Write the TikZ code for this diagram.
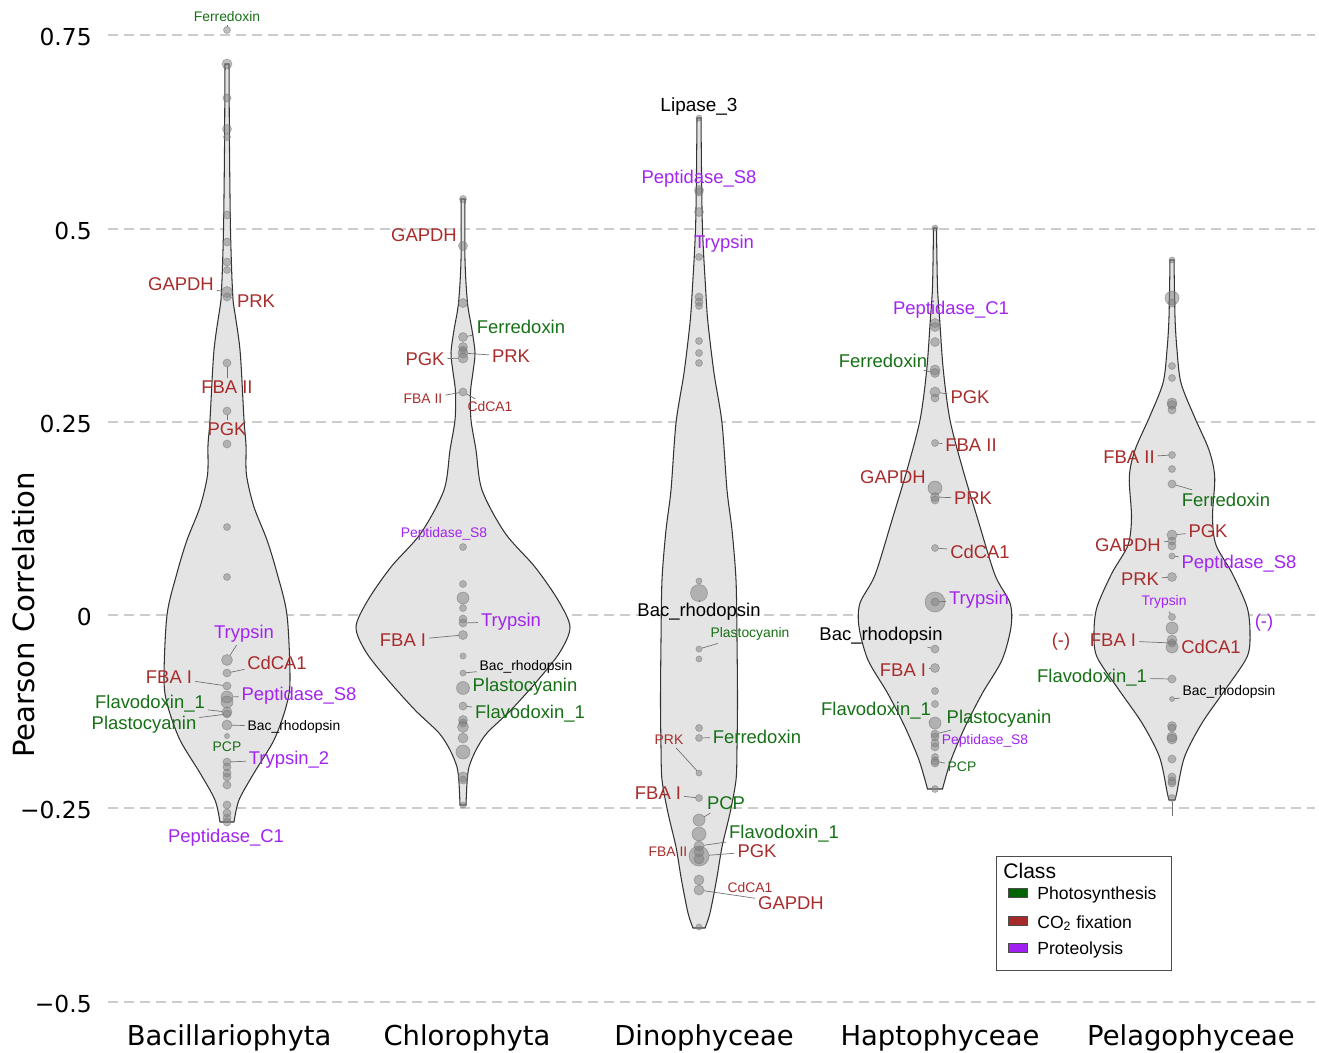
\documentclass[tikz,border=0pt]{standalone}
\usepackage{fontspec}
\setmainfont{Liberation Sans}
\newfontfamily\axisfont{DejaVu Sans}
\definecolor{photo}{RGB}{0,100,0}
\definecolor{cofix}{RGB}{165,42,42}
\definecolor{proteo}{RGB}{160,32,240}
\definecolor{phtext}{RGB}{22,112,22}
\definecolor{fxtext}{RGB}{168,44,44}
\definecolor{prtext}{RGB}{162,36,240}
\definecolor{vfill}{RGB}{228,228,228}
\tikzset{
  grid/.style={draw=black!20, line width=1.1pt, dash pattern=on 5.7pt off 3.4pt},
  violin/.style={fill=vfill, draw=black!80, line width=0.6pt},
  pt/.style={circle, inner sep=0pt, outer sep=0pt, fill=black!50, fill opacity=0.5, draw=black!55, draw opacity=0.5, line width=0.4pt},
  lab/.style={font=\fontsize{10.5}{12}\selectfont, inner sep=1.5pt, yshift=-0.03cm},
  sm/.style={font=\fontsize{7.9}{9}\selectfont, inner sep=1.5pt, yshift=-0.02cm},
  ph/.style={text=phtext}, fx/.style={text=fxtext}, pr/.style={text=prtext},
  leader/.style={draw=black!55, line width=0.4pt},
  tick/.style={font=\axisfont\fontsize{13.3}{15}\selectfont, inner sep=0pt, anchor=east, yshift=-0.04cm},
  cat/.style={font=\axisfont\fontsize{15.6}{18}\selectfont, inner sep=0pt, yshift=-0.06cm},
  key/.style={draw=black!70, line width=0.4pt, minimum width=0.38cm, minimum height=0.18cm, inner sep=0pt},
  keytext/.style={font=\fontsize{10}{12}\selectfont, anchor=west, inner sep=0pt, yshift=-0.04cm}
}
\newcommand\violin[4]{%
  \foreach \s in {1,-1}{%
    \begin{scope}[shift={(#1,0)},xscale=\s]
      \filldraw[violin] (0,#2) -- plot[smooth] coordinates {#4} -- (0,#3);
    \end{scope}}}

\begin{document}
\begin{tikzpicture}[x=0.02cm,y=-0.02cm]
\useasboundingbox (0,0) rectangle (1319,1052);

\foreach \y in {35,229,422,615,808,1002}
  \draw[grid] (108,\y) -- (1315,\y);
\foreach \y/\t in {35/0.75,229/0.5,422/0.25,615/0,808/−0.25,1002/−0.5}
  \node[tick] (tick\y) at (92,\y) {\t};

\node[rotate=90, font=\axisfont\fontsize{16.6}{18}\selectfont, inner sep=0pt] (ylab) at (24,615) {Pearson Correlation};
\node[cat] (bacil) at (229,1035) {Bacillariophyta};
\node[cat] (chloro) at (467,1035) {Chlorophyta};
\node[cat] (dino) at (704,1035) {Dinophyceae};
\node[cat] (hapto) at (940,1035) {Haptophyceae};
\node[cat] (pelago) at (1191,1035) {Pelagophyceae};

\violin{227}{64}{822}{(2,64) (2.5,150) (3.5,230) (5,280) (6,300) (13,350) (17,420) (19,445) (19.5,475) (27,507) (40,540) (50,573) (60,615) (63,680) (59,707) (47,740) (27,773) (12,800) (7,822)}
\violin{463}{199}{805}{(2,199) (2,260) (4.5,303) (9,330) (12,353) (10,372) (7.5,392) (8,420) (13,450) (19,490) (42,533) (72,567) (95,600) (107,627) (97,652) (75,680) (48,710) (24,733) (13,750) (6,767) (4,783) (3,805)}
\violin{699}{118}{928}{(2,118) (3.3,223) (6.7,290) (9,323) (15,373) (23,423) (28,490) (33,530) (37,580) (38,640) (38.5,700) (38,747) (37,780) (31,813) (23,847) (17.5,880) (11,913) (6,928)}
\violin{935}{228}{789}{(1.5,228) (2.5,287) (4.7,320) (8.3,370) (15,420) (28,470) (43,520) (60,575) (75,603) (76,627) (67,660) (47.5,693) (30,727) (16,760) (7.5,789)}
\violin{1172}{260}{800}{(2,260) (3,317) (5,350) (9,383) (22.5,417) (37,450) (42.7,477) (40.5,517) (44,545) (60,573) (75,607) (78,633) (75,657) (53,690) (30,723) (12.5,757) (4.7,793) (3,800)}

\foreach \n/\y/\r in {a1/30/3.5, a2/64/5, a3/98/4, a4/129/4.5, a5/137/3.5, a6/215/4, a7/242/4, a8/262/4, a9/270/3.5, a10/292/5.5, a11/297/4, a12/363/4, a13/411/4, a14/444/4, a15/527/3.5, a16/577/3.5, a17/660/5.5, a18/673/4, a19/686/4, a20/697/6, a21/702/6, a22/712/5, a23/714/4, a24/725/5, a25/736/2.5, a26/762/4, a27/767/4, a28/773/4, a29/777/4, a30/785/4, a31/805/4, a32/813/4, a33/818/4, a34/822/4}
  \node[pt, minimum size={\r*0.04cm}] (\n) at (227,\y) {};
\foreach \n/\y/\r in {b1/199/3.5, b2/246/4.5, b3/303/4.5, b4/337/4.5, b5/347/4.5, b6/350/4, b7/353/5, b8/358/5, b9/392/4, b10/547/3.5, b11/584/3.5, b12/598/6, b13/608/3.5, b14/619/4, b15/623/4, b16/635/4.5, b17/656/3, b18/673/3, b19/688/6.5, b20/706/4, b21/720/4.5, b22/723/4, b23/727/5.5, b24/738/5, b25/752/7, b26/777/5, b27/780/4, b28/805/3}
  \node[pt, minimum size={\r*0.04cm}] (\n) at (463,\y) {};
\foreach \n/\y/\r in {c1/118/3, c2/190/4.5, c3/192/4, c4/212/4.5, c5/257/3.5, c6/297/4, c7/302/4, c8/306/3.5, c9/341/3.5, c10/353/3.5, c11/363/3.5, c12/581/3, c13/593/8.5, c14/649/3, c15/659/3, c16/728/3.5, c17/738/3.5, c18/773/3, c19/798/3.5, c20/820/6, c21/834/7, c22/846/5, c23/852/5, c24/856/10, c25/859/5, c26/880/5, c27/890/5, c28/927/3}
  \node[pt, minimum size={\r*0.04cm}] (\n) at (699,\y) {};
\foreach \n/\y/\r in {d1/228/3, d2/323/4.5, d3/327/4.5, d4/342/4.5, d5/370/5, d6/373/4.5, d7/392/5, d8/398/4, d9/443/3.5, d10/488/7, d11/497/4.5, d12/500/4, d13/548/3.5, d14/602/10, d15/602/4, d16/649/4, d17/668/4.5, d18/691/3.5, d19/704/3.5, d20/723/6, d21/734/4, d22/737/4, d23/743/4, d24/747/4, d25/757/3.5, d26/761/4, d27/763/4, d28/789/3.5}
  \node[pt, minimum size={\r*0.04cm}] (\n) at (935,\y) {};
\foreach \n/\y/\r in {e1/260/3, e2/298/7, e3/303/4, e4/366/3.5, e5/378/3.5, e6/403/5, e7/405/4.5, e8/410/4, e9/455/3.5, e10/469/3.5, e11/484/4, e12/535/5, e13/541/4, e14/546/4, e15/556/3, e16/577/4.5, e17/617/3.5, e18/628/6, e19/640/5, e20/643/4, e21/647/6, e22/679/4, e23/699/2.5, e24/726/4.5, e25/728/4, e26/737/5, e27/739/5, e28/759/4, e29/777/4, e30/781/4, e31/783/4, e32/798/3.5}
  \node[pt, minimum size={\r*0.04cm}] (\n) at (1172,\y) {};

\node[sm,ph] (fdA) at (227,16) {Ferredoxin};
\node[lab,fx] (gapA) at (181,283) {GAPDH};
\node[lab,fx] (prkA) at (256,300) {PRK};
\node[lab,fx] (fba2A) at (227,386) {FBA II};
\node[lab,fx] (pgkA) at (227,428) {PGK};
\node[lab,pr] (tryA) at (244,632) {Trypsin};
\node[lab,fx] (cdA) at (277,661) {CdCA1};
\node[lab,fx] (fba1A) at (169,676) {FBA I};
\node[lab,pr] (pepA) at (299,694) {Peptidase\_S8};
\node[lab,ph] (flvA) at (150,702) {Flavodoxin\_1};
\node[lab,ph] (plaA) at (144,723) {Plastocyanin};
\node[sm] (bacA) at (294,726) {Bac\_rhodopsin};
\node[sm,ph] (pcpA) at (227,746) {PCP};
\node[lab,pr] (try2A) at (289,758) {Trypsin\_2};
\node[lab,pr] (pepcA) at (226,836) {Peptidase\_C1};
\draw[leader] (fdA) -- (a1);
\draw[leader] (gapA) -- (a10);
\draw[leader] (prkA) -- (a11);
\draw[leader] (fba2A) -- (a12);
\draw[leader] (pgkA) -- (a13);
\draw[leader] (tryA) -- (a17);
\draw[leader] (cdA) -- (a18);
\draw[leader] (fba1A) -- (a19);
\draw[leader] (pepA) -- (a20);
\draw[leader] (flvA) -- (a22);
\draw[leader] (plaA) -- (a23);
\draw[leader] (bacA) -- (a24);
\draw[leader] (try2A) -- (a26);

\node[lab,fx] (gapB) at (424,234) {GAPDH};
\node[lab,ph] (fdB) at (521,325) {Ferredoxin};
\node[lab,fx] (pgkB) at (425,358) {PGK};
\node[lab,fx] (prkB) at (511,355) {PRK};
\node[sm,fx] (fba2B) at (423,398) {FBA II};
\node[sm,fx] (cdB) at (490,406) {CdCA1};
\node[sm,pr] (pepB) at (444,533) {Peptidase\_S8};
\node[lab,pr] (tryB) at (511,620) {Trypsin};
\node[lab,fx] (fba1B) at (403,639) {FBA I};
\node[sm] (bacB) at (526,666) {Bac\_rhodopsin};
\node[lab,ph] (plaB) at (525,685) {Plastocyanin};
\node[lab,ph] (flvB) at (530,712) {Flavodoxin\_1};
\draw[leader] (gapB) -- (b2);
\draw[leader] (fdB) -- (b4);
\draw[leader] (pgkB) -- (b8);
\draw[leader] (prkB) -- (b7);
\draw[leader] (fba2B) -- (b9);
\draw[leader] (cdB) -- (b9);
\draw[leader] (tryB) -- (b15);
\draw[leader] (fba1B) -- (b16);
\draw[leader] (bacB) -- (b18);
\draw[leader] (plaB) -- (b19);
\draw[leader] (flvB) -- (b20);

\node[font=\fontsize{10.8}{12}\selectfont, inner sep=1.5pt, yshift=-0.04cm] (lipC) at (699,105) {Lipase\_3};
\node[lab,pr] (pepC) at (699,177) {Peptidase\_S8};
\node[lab,pr] (tryC) at (724,242) {Trypsin};
\node[lab] (bacC) at (699,610) {Bac\_rhodopsin};
\node[sm,ph] (plaC) at (750,633) {Plastocyanin};
\node[lab,ph] (fdC) at (757,735) {Ferredoxin};
\node[sm,fx] (prkC) at (669,739) {PRK};
\node[lab,fx] (fba1C) at (658,792) {FBA I};
\node[lab,ph] (pcpC) at (726,802) {PCP};
\node[lab,ph] (flvC) at (784,832) {Flavodoxin\_1};
\node[sm,fx] (fba2C) at (668,851) {FBA II};
\node[lab,fx] (pgkC) at (757,850) {PGK};
\node[sm,fx] (cdC) at (750,887) {CdCA1};
\node[lab,fx] (gapC) at (791,902) {GAPDH};
\draw[leader] (tryC) -- (c5);
\draw[leader] (bacC) -- (c13);
\draw[leader] (plaC) -- (c14);
\draw[leader] (fdC) -- (c17);
\draw[leader] (prkC) -- (c18);
\draw[leader] (fba1C) -- (c19);
\draw[leader] (pcpC) -- (c20);
\draw[leader] (flvC) -- (c22);
\draw[leader] (pgkC) -- (c24);
\draw[leader] (gapC) -- (c27);

\node[lab,pr] (pepcD) at (951,308) {Peptidase\_C1};
\node[lab,ph] (fdD) at (883,359) {Ferredoxin};
\node[lab,fx] (pgkD) at (970,396) {PGK};
\node[lab,fx] (fba2D) at (971,444) {FBA II};
\node[lab,fx] (gapD) at (893,476) {GAPDH};
\node[lab,fx] (prkD) at (973,497) {PRK};
\node[lab,fx] (cdD) at (980,550) {CdCA1};
\node[lab,pr] (tryD) at (979,598) {Trypsin};
\node[lab] (bacD) at (881,634) {Bac\_rhodopsin};
\node[lab,fx] (fba1D) at (903,669) {FBA I};
\node[lab,ph] (flvD) at (876,709) {Flavodoxin\_1};
\node[lab,ph] (plaD) at (999,717) {Plastocyanin};
\node[sm,pr] (pepD) at (985,740) {Peptidase\_S8};
\node[sm,ph] (pcpD) at (962,766) {PCP};
\draw[leader] (fdD) -- (d6);
\draw[leader] (pgkD) -- (d7);
\draw[leader] (fba2D) -- (d9);
\draw[leader] (gapD) -- (d10);
\draw[leader] (prkD) -- (d11);
\draw[leader] (cdD) -- (d13);
\draw[leader] (tryD) -- (d15);
\draw[leader] (bacD) -- (d16);
\draw[leader] (fba1D) -- (d17);
\draw[leader] (flvD) -- (d20);
\draw[leader] (plaD) -- (d21);
\draw[leader] (pcpD) -- (d26);

\node[lab,fx] (fba2E) at (1129,456) {FBA II};
\node[lab,ph] (fdE) at (1226,498) {Ferredoxin};
\node[lab,fx] (pgkE) at (1208,530) {PGK};
\node[lab,fx] (gapE) at (1128,544) {GAPDH};
\node[lab,pr] (pepE) at (1239,562) {Peptidase\_S8};
\node[lab,fx] (prkE) at (1140,578) {PRK};
\node[sm,pr] (tryE) at (1164,601) {Trypsin};
\node[lab,fx] (negE) at (1061,640) {(-)};
\node[lab,fx] (fba1E) at (1113,639) {FBA I};
\node[lab,fx] (cdE) at (1211,645) {CdCA1};
\node[lab,pr] (negP) at (1264,621) {(-)};
\node[lab,ph] (flvE) at (1092,676) {Flavodoxin\_1};
\node[sm] (bacE) at (1229,691) {Bac\_rhodopsin};
\draw[leader] (fba2E) -- (e9);
\draw[leader] (fdE) -- (e11);
\draw[leader] (pgkE) -- (e12);
\draw[leader] (gapE) -- (e13);
\draw[leader] (pepE) -- (e15);
\draw[leader] (prkE) -- (e16);
\draw[leader] (tryE) -- (e17);
\draw[leader] (fba1E) -- (e20);
\draw[leader] (flvE) -- (e22);
\draw[leader] (bacE) -- (e23);
\draw[leader] (e32.south) -- ++(0,14);

\node[draw=black!70, line width=0.6pt, fill=white, minimum width=3.5cm, minimum height=2.28cm, anchor=north west, inner sep=0pt] (legend) at (996,856) {};
\node[font=\fontsize{12}{14}\selectfont, anchor=west, inner sep=0pt, yshift=-0.03cm] (cls) at (1003,869) {Class};
\node[key, fill=photo] (k1) at (1018,893) {};
\node[key, fill=cofix] (k2) at (1018,921) {};
\node[key, fill=proteo] (k3) at (1018,948) {};
\node[keytext] (t1) at (1037,893) {Photosynthesis};
\node[keytext] (t2) at (1037,921) {CO\textsubscript{2} fixation};
\node[keytext] (t3) at (1037,948) {Proteolysis};
\end{tikzpicture}
\end{document}
